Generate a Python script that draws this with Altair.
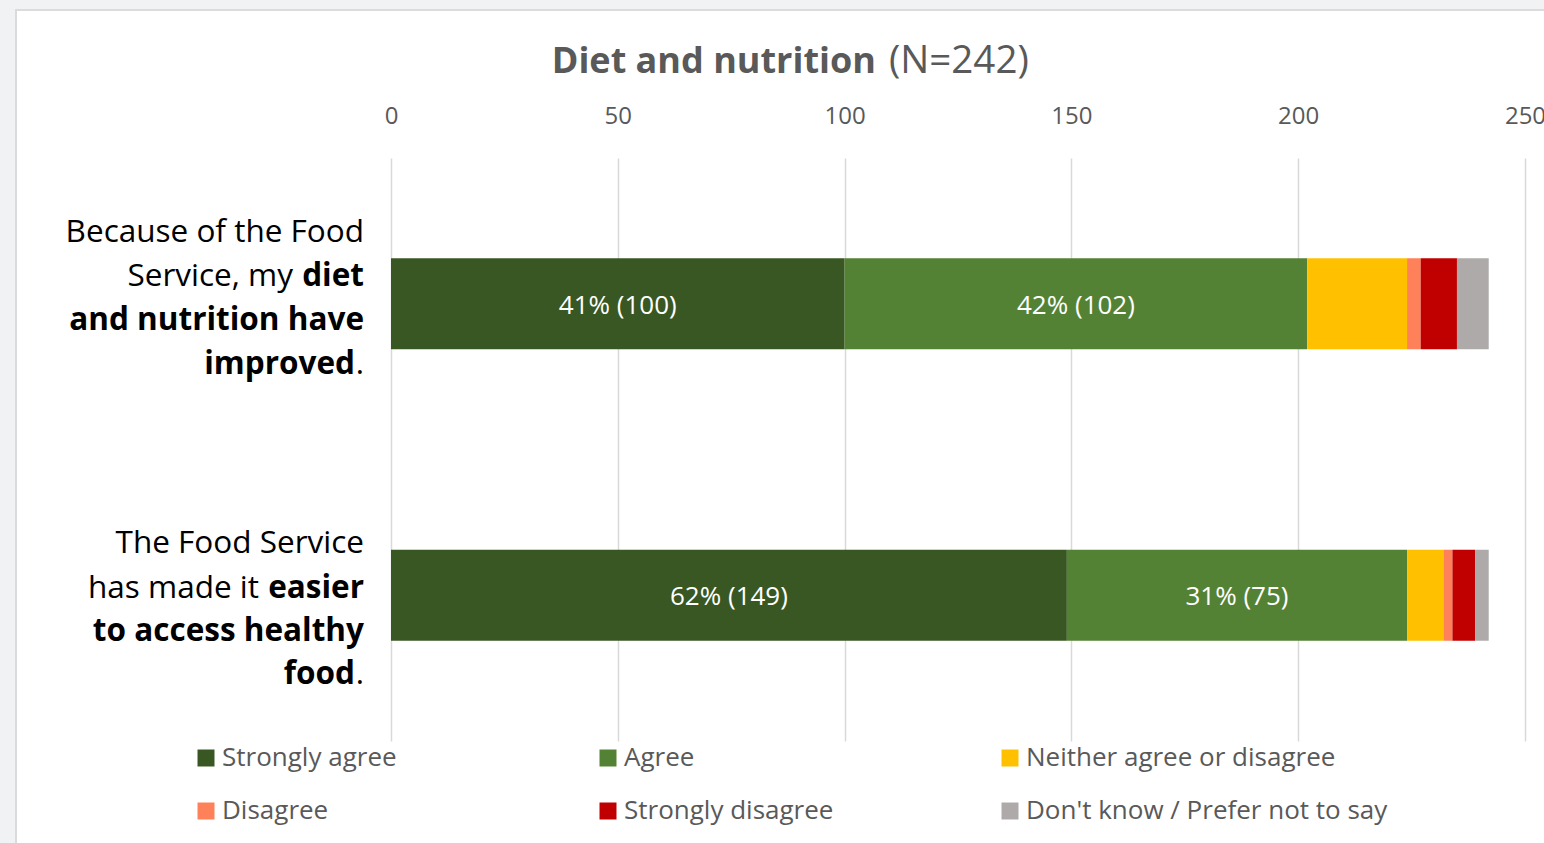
import altair as alt
import pandas as pd

FONT = "Open Sans"

# Survey questions (keys) and response categories
questions = ["diet", "access"]
responses = [
    "Strongly agree",
    "Agree",
    "Neither agree or disagree",
    "Disagree",
    "Strongly disagree",
    "Don't know / Prefer not to say",
]
colors = ["#385723", "#548235", "#FFC000", "#FF8159", "#C00000", "#AEAAAA"]

# Response counts per question (same order as `questions`)
strongly_agree = [100, 149]
agree = [102, 75]
neither = [22, 8]
disagree = [3, 2]
strongly_disagree = [8, 5]
dont_know = [7, 3]

x_ticks = [0, 50, 100, 150, 200, 250]
total_n = 242
labelled_responses = ["Strongly agree", "Agree"]

title_bold = "Diet and nutrition"
title_plain = "(N=242)"

# Question wording, line by line; each piece is (text, is_bold)
question_lines = {
    "diet": [
        [("Because of the Food", False)],
        [("Service, my", False), ("diet", True)],
        [("and nutrition have", True)],
        [("improved", True), (".", False)],
    ],
    "access": [
        [("The Food Service", False)],
        [("has made it", False), ("easier", True)],
        [("to access healthy", True)],
        [("food", True), (".", False)],
    ],
}

# ---- long-form table --------------------------------------------------------
series = [strongly_agree, agree, neither, disagree, strongly_disagree, dont_know]
rows = []
for qi, q in enumerate(questions):
    start = 0
    for ri, resp in enumerate(responses):
        n = series[ri][qi]
        rows.append(
            {
                "question": q,
                "response": resp,
                "order": ri,
                "count": n,
                "start": start,
                "end": start + n,
                "mid": start + n / 2,
                "label": f"{round(100 * n / total_n)}% ({n})" if resp in labelled_responses else "",
            }
        )
        start += n
df = pd.DataFrame(rows)

# ---- layout constants (pixels, relative to the plot area) ---------------------
W, H = 1134, 583
PAD = {"left": 391, "top": 158, "right": 1544 - 391 - W, "bottom": 843 - 158 - H}

y_enc = alt.Y(
    "question:N",
    sort=questions,
    scale=alt.Scale(paddingInner=0.688, paddingOuter=0.344),
    axis=None,
)

bars = alt.Chart(df).mark_bar().encode(
    x=alt.X(
        "start:Q",
        scale=alt.Scale(domain=[0, 250], nice=False),
        axis=alt.Axis(
            orient="top",
            values=x_ticks,
            title=None,
            domain=False,
            ticks=False,
            labelFlush=False,
            labelOverlap=False,
            labelPadding=30,
            labelFont=FONT,
            labelFontSize=24,
            labelColor="#595959",
            grid=True,
            gridColor="#D9D9D9",
            gridWidth=1.5,
        ),
    ),
    x2="end:Q",
    y=y_enc,
    color=alt.Color(
        "response:N",
        sort=responses,
        scale=alt.Scale(domain=responses, range=colors),
        legend=alt.Legend(
            title=None,
            orient="none",
            legendX=-198,
            legendY=587,
            direction="horizontal",
            columns=3,
            gridAlign="all",
            columnPadding=11,
            rowPadding=27,
            symbolType="square",
            symbolSize=289,
            symbolStrokeWidth=0,
            labelFont=FONT,
            labelFontSize=26,
            labelColor="#595959",
            labelOffset=3,
            labelLimit=600,
        ),
    ),
)

values = (
    alt.Chart(df)
    .transform_filter(alt.datum.label != "")
    .mark_text(color="white", font=FONT, fontSize=26, baseline="middle", dy=2)
    .encode(x="mid:Q", y=y_enc, text="label:N")
)

# question wording to the left of the bars, right-aligned at x = -27
EDGE = -27
line_dy = {"diet": [-62, -18, 26, 70], "access": [-42, 3, 46, 89]}
piece_right = {
    ("diet", 1, "Service, my"): EDGE - 71,
    ("diet", 3, "improved"): EDGE - 9,
    ("access", 1, "has made it"): EDGE - 105,
    ("access", 3, "food"): EDGE - 9,
}
label_layers = []
for q in questions:
    qdf = pd.DataFrame({"question": [q]})
    for li, pieces in enumerate(question_lines[q]):
        for text, bold in pieces:
            xr = piece_right.get((q, li, text), EDGE)
            label_layers.append(
                alt.Chart(qdf)
                .mark_text(
                    text=text,
                    align="right",
                    baseline="alphabetic",
                    dy=line_dy[q][li],
                    font=FONT,
                    fontSize=31.5,
                    fontWeight="bold" if bold else "normal",
                    color="#000000",
                )
                .encode(x=alt.value(xr), y=y_enc)
            )

one = pd.DataFrame({"k": [0]})
title_layers = [
    alt.Chart(one)
    .mark_text(text=title_bold, align="right", baseline="alphabetic", font=FONT,
               fontSize=36, fontWeight="bold", color="#595959")
    .encode(x=alt.value(485), y=alt.value(-85)),
    alt.Chart(one)
    .mark_text(text=title_plain, align="left", baseline="alphabetic", font=FONT,
               fontSize=38.5, color="#595959")
    .encode(x=alt.value(498), y=alt.value(-85)),
]

# grey surround and the chart-area frame
frame = [
    alt.Chart(one).mark_rect(color="#F1F2F4").encode(
        x=alt.value(-391), x2=alt.value(W + 30), y=alt.value(-158), y2=alt.value(-149)
    ),
    alt.Chart(one).mark_rect(color="#F1F2F4").encode(
        x=alt.value(-391), x2=alt.value(-376), y=alt.value(-158), y2=alt.value(H + 110)
    ),
    alt.Chart(one).mark_rect(color="#DADBDD").encode(
        x=alt.value(-376), x2=alt.value(W + 30), y=alt.value(-149), y2=alt.value(-147)
    ),
    alt.Chart(one).mark_rect(color="#DADBDD").encode(
        x=alt.value(-376), x2=alt.value(-374), y=alt.value(-149), y2=alt.value(H + 110)
    ),
]

chart = (
    alt.layer(*frame, bars, values, *label_layers, *title_layers)
    .properties(
        width=W,
        height=H,
        autosize=alt.AutoSizeParams(type="none"),
        padding=PAD,
        background="white",
    )
    .configure_view(stroke=None)
)

chart.save("out.html", embed_options={"renderer": "svg", "actions": False})
